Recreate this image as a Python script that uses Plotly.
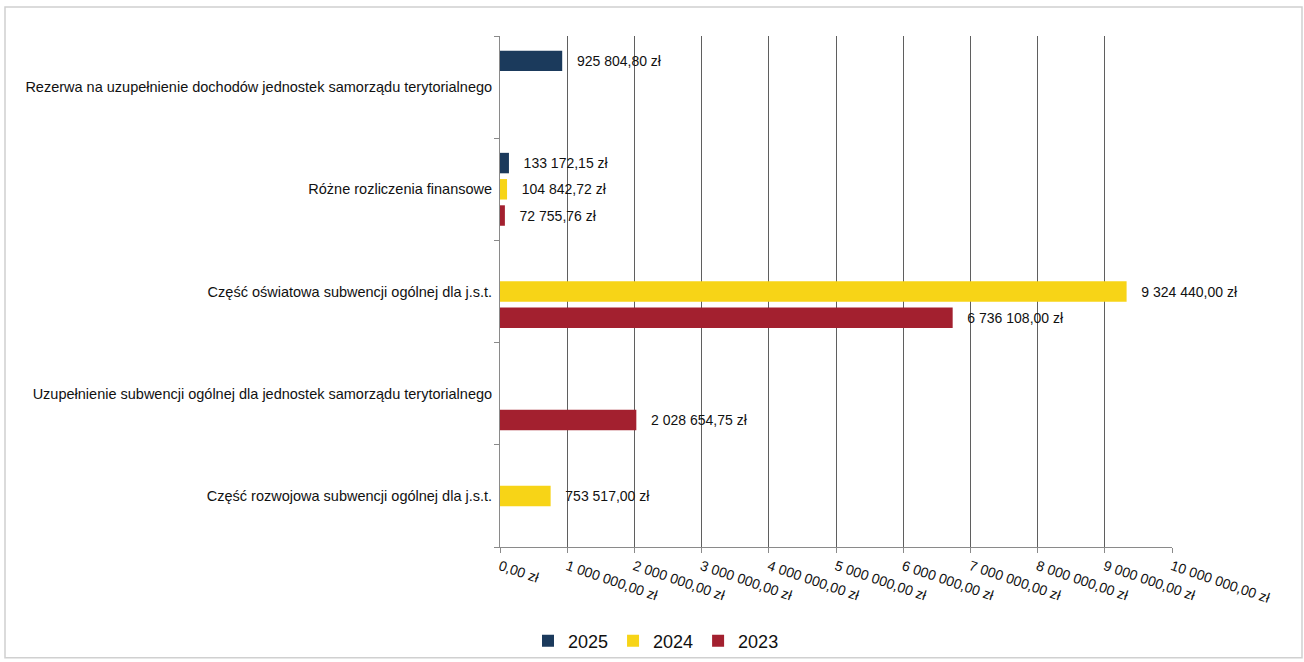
import plotly.graph_objects as go

categories = [
    "Część rozwojowa subwencji ogólnej dla j.s.t.",
    "Uzupełnienie subwencji ogólnej dla jednostek samorządu terytorialnego",
    "Część oświatowa subwencji ogólnej dla j.s.t.",
    "Różne rozliczenia finansowe",
    "Rezerwa na uzupełnienie dochodów jednostek samorządu terytorialnego",
]
v2023 = [None, 2028654.75, 6736108.00, 72755.76, None]
v2024 = [753517.00, None, 9324440.00, 104842.72, None]
v2025 = [None, None, None, 133172.15, 925804.80]

tick_vals = [i * 1000000 for i in range(11)]
tick_text = ["0,00 zł"] + [f"{i} 000 000,00 zł" for i in range(1, 11)]

colors = {"2025": "#1B3A5C", "2024": "#F7D417", "2023": "#A3202F"}


def fmt(v):
    if v is None:
        return ""
    s = f"{v:,.2f}"
    ip, dp = s.split(".")
    return "\u00a0\u00a0\u00a0" + ip.replace(",", " ") + "," + dp + " zł"


W, H = 1304, 670
K = H / 662.0
L, R = 500, 132
T = round(36 * K)
PB = round(541 * K)
B = H - PB
PW, PH = W - L - R, H - T - B

fig = go.Figure()
for name, vals in [("2023", v2023), ("2024", v2024), ("2025", v2025)]:
    fig.add_trace(go.Bar(
        y=categories, x=vals, name=name, orientation="h",
        marker=dict(color=colors[name], line=dict(width=0)),
        text=[fmt(v) for v in vals], textposition="outside",
        textfont=dict(family="Liberation Sans, Arial", size=14, color="#111"),
        cliponaxis=False,
    ))

fig.update_layout(
    width=W, height=H,
    barmode="group", bargap=0.23, bargroupgap=0.22,
    paper_bgcolor="white", plot_bgcolor="white",
    margin=dict(l=L, r=R, t=T, b=B),
    font=dict(family="Liberation Sans, Arial", size=12, color="#111"),
    legend=dict(orientation="h", x=(656 - L) / PW, xanchor="center",
                y=-(615 * K - PB) / PH, yanchor="top",
                traceorder="reversed", bgcolor="rgba(0,0,0,0)",
                font=dict(size=18, family="Liberation Sans Narrow, Liberation Sans"),
                itemwidth=30),
    showlegend=True,
)
fig.update_xaxes(
    range=[0, 10000000], tickvals=tick_vals, ticktext=tick_text,
    tickangle=19, showgrid=True, gridcolor="#5f5f5f", gridwidth=1,
    showline=True, linecolor="#8a8a8a", linewidth=1,
    ticks="outside", ticklen=5, tickcolor="#8a8a8a",
    tickfont=dict(family="Liberation Sans Narrow, Liberation Sans", size=14, color="#111"),
    zeroline=False,
)
fig.update_yaxes(
    categoryorder="array", categoryarray=categories,
    showline=True, linecolor="#8a8a8a", linewidth=1,
    ticks="outside", tickson="boundaries", ticklen=5, tickcolor="#8a8a8a",
    ticklabelstandoff=4, showgrid=False,
    tickfont=dict(family="Liberation Sans, Arial", size=14.5, color="#111"),
)
fig.add_shape(type="rect", xref="paper", yref="paper",
              x0=(5 - L) / PW, x1=(1302 - L) / PW,
              y0=-(659 - PB) / PH, y1=(PB - 7) / PH,
              line=dict(color="#d0d0d0", width=1.5), fillcolor="rgba(0,0,0,0)", layer="below")
fig.write_html(
    "out.html",
    config={"displayModeBar": False},
    post_script=(
        "document.body.style.margin='0px';"
        "document.body.style.overflow='hidden';"
        "document.documentElement.style.overflow='hidden';"
    ),
)
